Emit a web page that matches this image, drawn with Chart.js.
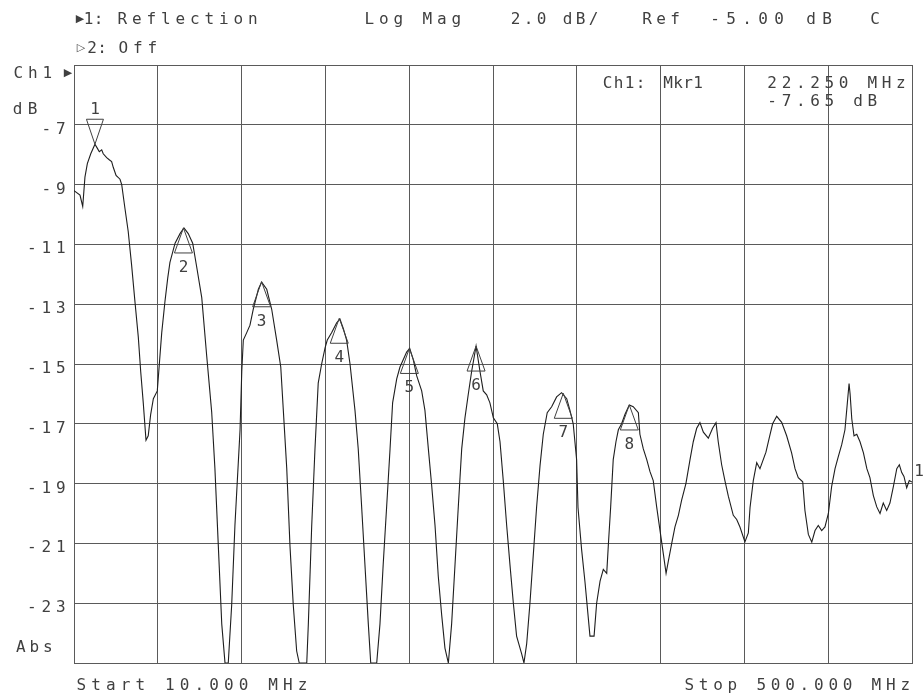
<!DOCTYPE html>
<html lang="en">
<head>
    <meta charset="UTF-8">
    <title>Reflection - Log Mag</title>
    <script src="https://cdn.jsdelivr.net/npm/chart.js"></script>
    <style>
        body { margin: 0; background: #fff; }
        #wrap { width: 924px; height: 695px; position: relative; }
    </style>
    <script>
        // trace (MHz, dB)
        const freqMHz = [
            10.0, 13.5, 15.1, 16.4, 17.8, 19.8, 22.25, 23.6, 24.8, 26.2,
            27.1, 29.1, 30.6, 32.0, 33.0, 34.6, 36.9, 37.9, 39.8, 41.7,
            43.7, 45.7, 47.6, 49.0, 50.5, 52.1, 53.4, 54.8, 56.4, 58.7,
            59.9, 61.3, 63.2, 64.8, 66.1, 69.1, 72.0, 74.3, 76.8, 79.4,
            81.7, 84.7, 87.6, 90.5, 92.4, 94.4, 96.4, 98.3, 100.2, 102.2,
            104.1, 107.1, 108.1, 109.0, 111.0, 112.9, 114.8, 117.8, 119.7, 122.7,
            125.6, 128.5, 130.9, 132.4, 134.4, 136.3, 138.2, 140.2, 141.7, 146.1,
            147.0, 149.0, 150.9, 152.8, 154.8, 156.8, 158.1, 160.7, 163.6, 165.5,
            167.5, 169.4, 171.4, 174.3, 176.2, 178.2, 180.1, 182.1, 183.5, 187.0,
            188.9, 190.8, 192.8, 194.8, 196.3, 198.7, 200.6, 202.5, 204.5, 206.3,
            208.4, 210.4, 213.3, 215.2, 217.2, 219.2, 221.1, 223.0, 225.0, 226.9,
            228.9, 230.8, 232.8, 234.7, 236.7, 238.6, 240.5, 242.5, 245.1, 247.4,
            249.3, 251.3, 253.2, 255.2, 257.5, 259.1, 261.0, 263.0, 264.9, 266.9,
            268.8, 271.8, 273.1, 274.7, 276.6, 278.6, 280.5, 282.5, 284.4, 286.7,
            289.3, 292.2, 295.1, 298.1, 300.0, 301.9, 303.9, 304.7, 306.8, 308.8,
            311.7, 314.1, 315.6, 317.6, 319.5, 321.5, 322.4, 323.8, 325.3, 326.9,
            328.3, 330.2, 332.2, 334.7, 337.0, 340.0, 340.9, 342.9, 344.9, 346.8,
            348.7, 350.7, 352.6, 354.6, 356.2, 357.5, 359.5, 361.4, 363.4, 365.3,
            367.8, 370.2, 372.1, 374.1, 376.0, 378.0, 380.9, 383.4, 385.4, 386.7,
            388.7, 390.6, 392.6, 395.5, 397.5, 399.4, 402.3, 404.3, 405.3, 407.2,
            409.2, 411.1, 414.6, 416.6, 418.5, 420.9, 423.8, 426.7, 429.6, 431.6,
            433.5, 436.1, 437.4, 439.4, 441.4, 443.3, 445.2, 447.2, 449.1, 451.1,
            453.0, 455.0, 456.9, 458.9, 460.8, 462.2, 463.2, 463.8, 464.8, 466.1,
            467.7, 469.6, 471.6, 473.6, 475.4, 477.4, 479.4, 481.3, 483.2, 485.2,
            487.1, 489.1, 491.1, 492.6, 494.0, 495.3, 496.9, 498.4, 500.0
        ];
        const reflDb = [
            -9.2, -9.35, -9.73, -8.75, -8.3, -7.97, -7.65, -7.78, -7.9, -7.84,
            -7.97, -8.1, -8.17, -8.23, -8.43, -8.69, -8.82, -9.0, -9.8, -10.57,
            -11.7, -12.95, -14.1, -15.25, -16.3, -17.55, -17.4, -16.7, -16.16, -15.9,
            -15.0, -13.95, -12.9, -12.13, -11.6, -10.96, -10.64, -10.45, -10.64, -10.96,
            -11.74, -12.78, -14.73, -16.6, -18.5, -21.1, -23.7, -25, -25, -23.06,
            -20.4, -17.2, -15.25, -14.2, -13.95, -13.7, -13.17, -12.5, -12.26, -12.5,
            -13.17, -14.2, -15.1, -16.55, -18.5, -21.1, -23.05, -24.6, -25, -25,
            -23.73, -20.4, -17.84, -15.64, -15.0, -14.46, -14.2, -13.95, -13.62, -13.5,
            -13.82, -14.2, -15.0, -16.55, -17.84, -19.78, -21.7, -23.7, -25, -25,
            -23.7, -21.7, -19.78, -17.84, -16.3, -15.5, -15.1, -14.86, -14.6, -14.48,
            -14.86, -15.4, -15.9, -16.55, -17.84, -19.1, -20.4, -22.1, -23.4, -24.5,
            -25, -23.7, -21.7, -19.78, -17.84, -16.8, -16.03, -15.25, -14.4, -15.25,
            -15.9, -16.03, -16.3, -16.8, -17.0, -17.6, -18.9, -20.4, -21.7, -23.0,
            -24.1, -24.7, -25, -24.35, -23.0, -21.35, -19.78, -18.4, -17.35, -16.63,
            -16.43, -16.1, -15.96, -16.16, -16.55, -17.0, -18.2, -19.8, -21.2, -22.3,
            -24.1, -24.1, -23.0, -22.26, -21.87, -22.0, -21.1, -19.78, -18.2, -17.6,
            -17.2, -17.0, -16.68, -16.37, -16.43, -16.63, -17.35, -17.84, -18.2, -18.6,
            -18.9, -19.78, -20.55, -21.35, -22.0, -21.6, -21.0, -20.45, -20.06, -19.55,
            -19.0, -18.2, -17.6, -17.15, -16.96, -17.28, -17.48, -17.15, -16.96, -17.6,
            -18.37, -18.9, -19.42, -20.06, -20.2, -20.45, -20.95, -20.65, -19.8, -18.9,
            -18.3, -18.5, -17.95, -17.45, -17.0, -16.75, -16.95, -17.4, -17.97, -18.5,
            -18.8, -18.94, -19.9, -20.7, -20.96, -20.57, -20.4, -20.57, -20.45, -20.0,
            -19.1, -18.5, -18.1, -17.7, -17.2, -16.3, -15.65, -16.0, -16.84, -17.4,
            -17.35, -17.6, -17.97, -18.5, -18.8, -19.4, -19.78, -20.0, -19.65, -19.9,
            -19.65, -19.1, -18.5, -18.37, -18.63, -18.76, -19.14, -18.9, -18.95
        ];

        // markers (1 is the active one, drawn pointing down)
        const markerIds = ['1', '2', '3', '4', '5', '6', '7', '8'];
        const markerFreq = [22.25, 74.0, 119.7, 165.1, 206.1, 245.1, 296.1, 334.7];
        const markerDb = [-7.65, -10.45, -12.25, -13.47, -14.48, -14.4, -15.98, -16.37];

        const yLabelValues = [-7, -9, -11, -13, -15, -17, -19, -21, -23];
        const yLabels = ['-7', '-9', '-11', '-13', '-15', '-17', '-19', '-21', '-23'];

        const startLabel = 'Start 10.000 MHz';
        const stopLabel = 'Stop 500.000 MHz';
        const mkrTitle = ['Ch1:', 'Mkr1'];
        const mkrReadout = ['22.250 MHz', '-7.65 dB'];

        const FONT = '16px "DejaVu Sans Mono"';
        const INK = '#404040';

        // plotter style text: every char centred in a fixed cell
        function cells(ctx, text, left, pitch, yc) {
            ctx.textAlign = 'center';
            ctx.textBaseline = 'alphabetic';
            for (let i = 0; i < text.length; i++) {
                ctx.fillText(text[i], left + pitch * (i + 0.5), yc + 6);
            }
        }

        function triangle(ctx, x, y, w, h, down) {
            ctx.beginPath();
            ctx.moveTo(x, y);
            ctx.lineTo(x - w / 2, down ? y - h : y + h);
            ctx.lineTo(x + w / 2, down ? y - h : y + h);
            ctx.closePath();
            ctx.stroke();
        }

        const vnaText = {
            id: 'vnaText',
            afterDraw(chart) {
                const ctx = chart.ctx;
                const xs = chart.scales.x, ys = chart.scales.y;
                ctx.save();
                ctx.font = FONT;
                ctx.fillStyle = INK;
                ctx.strokeStyle = INK;

                // header
                ctx.font = '11px "DejaVu Sans"';
                ctx.textAlign = 'center';
                ctx.fillText('\u25B6', 80, 22);
                ctx.fillText('\u25B7', 81, 51);
                ctx.fillText('\u25B6', 68, 76);
                ctx.font = FONT;
                cells(ctx, '1:', 83.5, 10, 18);
                cells(ctx, 'Reflection', 115, 14.5, 18);
                cells(ctx, 'Log Mag', 362, 14.5, 18);
                cells(ctx, '2.0 dB/', 509, 13, 18);
                cells(ctx, 'Ref', 640, 14, 18);
                cells(ctx, '-5.00 dB', 707, 16, 18);
                cells(ctx, 'C', 868, 14, 18);
                cells(ctx, '2:', 87, 10, 47);
                cells(ctx, 'Off', 116, 14.5, 47);

                cells(ctx, 'Ch1', 11, 14.5, 72);
                cells(ctx, 'dB', 10, 15, 108);
                cells(ctx, 'Abs', 14, 13.5, 646);

                // marker readout
                cells(ctx, mkrTitle[0], 602, 11, 82);
                cells(ctx, mkrTitle[1], 663, 10, 82);
                cells(ctx, mkrReadout[0], 765, 14.3, 82);
                cells(ctx, mkrReadout[1], 765, 14.3, 100);

                // footer
                cells(ctx, startLabel, 74, 14.75, 684);
                cells(ctx, stopLabel, 682, 14.4, 684);

                // y labels, right aligned in cells
                yLabelValues.forEach((v, i) => {
                    const t = yLabels[i];
                    const py = ys.getPixelForValue(v) + 3;
                    cells(ctx, t, 68 - 14.5 * t.length, 14.5, py);
                });

                // markers
                ctx.lineWidth = 1;
                markerFreq.forEach((f, i) => {
                    const px = xs.getPixelForValue(f);
                    const py = ys.getPixelForValue(markerDb[i]);
                    if (i === 0) {
                        triangle(ctx, px, py, 17, 25, true);
                        cells(ctx, markerIds[i], px - 7, 14, py - 36);
                    } else {
                        triangle(ctx, px, py, 18, 25, false);
                        cells(ctx, markerIds[i], px - 7, 14, py + 38);
                    }
                });

                // trace end marker
                const lastY = ys.getPixelForValue(reflDb[reflDb.length - 1]);
                cells(ctx, '1', 913, 12, lastY - 12);
                ctx.restore();
            }
        };

        window.onload = function () {
            const ctx = document.getElementById('chart').getContext('2d');
            new Chart(ctx, {
                type: 'line',
                data: {
                    datasets: [{
                        label: 'Ch1 Reflection',
                        data: freqMHz.map((f, i) => ({ x: f, y: reflDb[i] })),
                        borderColor: '#1e1e1e',
                        borderWidth: 1.1,
                        pointRadius: 0,
                        tension: 0,
                        fill: false
                    }]
                },
                options: {
                    responsive: true,
                    maintainAspectRatio: false,
                    animation: false,
                    layout: { padding: { left: 74, right: 12, top: 65, bottom: 32 } },
                    plugins: { legend: { display: false }, tooltip: { enabled: false } },
                    scales: {
                        x: {
                            type: 'linear',
                            min: 10, max: 500,
                            ticks: { stepSize: 49, display: false },
                            grid: { color: '#5a5a5a', lineWidth: 1, drawTicks: false },
                            border: { color: '#5a5a5a' }
                        },
                        y: {
                            min: -25, max: -5,
                            ticks: { stepSize: 2, display: false },
                            grid: { color: '#5a5a5a', lineWidth: 1, drawTicks: false },
                            border: { color: '#5a5a5a' }
                        }
                    }
                },
                plugins: [vnaText]
            });
        };
    </script>
</head>
<body>
    <div id="wrap"><canvas id="chart"></canvas></div>
</body>
</html>
